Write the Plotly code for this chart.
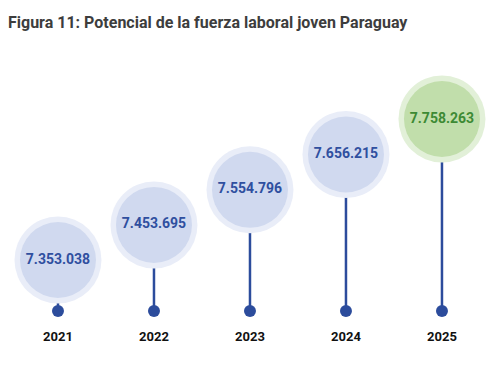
import plotly.graph_objects as go

years = [2021, 2022, 2023, 2024, 2025]
year_labels = ["2021", "2022", "2023", "2024", "2025"]
values = [7353038, 7453695, 7554796, 7656215, 7758263]
value_labels = ["7.353.038", "7.453.695", "7.554.796", "7.656.215", "7.758.263"]
highlight = [False, False, False, False, True]

title = "Figura 11: Potencial de la fuerza laboral joven Paraguay"

# layout constants
W, H = 494, 375
Y_TOP = 8100252
Y_BOTTOM = 7166234
BASELINE = 7206469  # value level of the dots (axis bottom area)

blue_line = "#2c4c9c"
inner_blue = "#d0d9ef"
outer_blue = "#e9edf8"
inner_green = "#c1deab"
outer_green = "#e2f0d8"
txt_blue = "#2f4f9f"
txt_green = "#3d8a34"

fig = go.Figure()

# stems
lx, ly = [], []
for x, v in zip(years, values):
    lx += [x, x, None]
    ly += [BASELINE, v, None]
fig.add_trace(go.Scatter(x=lx, y=ly, mode="lines",
                         line=dict(color=blue_line, width=2.5),
                         hoverinfo="skip", showlegend=False))

# outer rings
fig.add_trace(go.Scatter(
    x=years, y=values, mode="markers",
    marker=dict(size=87, color=[outer_green if h else outer_blue for h in highlight],
                line=dict(width=0)),
    hoverinfo="skip", showlegend=False, cliponaxis=False))
# inner circles with labels
fig.add_trace(go.Scatter(
    x=years, y=values, mode="markers+text",
    marker=dict(size=76, color=[inner_green if h else inner_blue for h in highlight],
                line=dict(width=0)),
    text=value_labels, textposition="middle center",
    textfont=dict(family="Roboto", size=14, weight="bold",
                  color=[txt_green if h else txt_blue for h in highlight]),
    hoverinfo="skip", showlegend=False, cliponaxis=False))

# dots
fig.add_trace(go.Scatter(
    x=years, y=[BASELINE] * len(years), mode="markers",
    marker=dict(size=12, color=blue_line),
    hoverinfo="skip", showlegend=False, cliponaxis=False))

fig.update_layout(
    width=W, height=H,
    margin=dict(l=0, r=0, t=0, b=50),
    paper_bgcolor="white", plot_bgcolor="white",
    title=dict(text="<b>" + title + "</b>", x=8 / W, xanchor="left", xref="paper",
               y=1 - 22 / H, yanchor="middle", yref="container",
               font=dict(family="Roboto", size=16, color="#3d3d3d")),
    xaxis=dict(range=[2020.396, 2025.542], tickvals=years, ticktext=year_labels,
               showgrid=False, zeroline=False, showline=False, ticks="",
               ticklabelstandoff=2,
               tickfont=dict(family="Roboto", size=13, color="#111111", weight="bold")),
    yaxis=dict(range=[Y_BOTTOM, Y_TOP], visible=False, showgrid=False),
)

fig.write_html("out.html", config={"displayModeBar": False},
               post_script="document.body.style.margin='0';")
